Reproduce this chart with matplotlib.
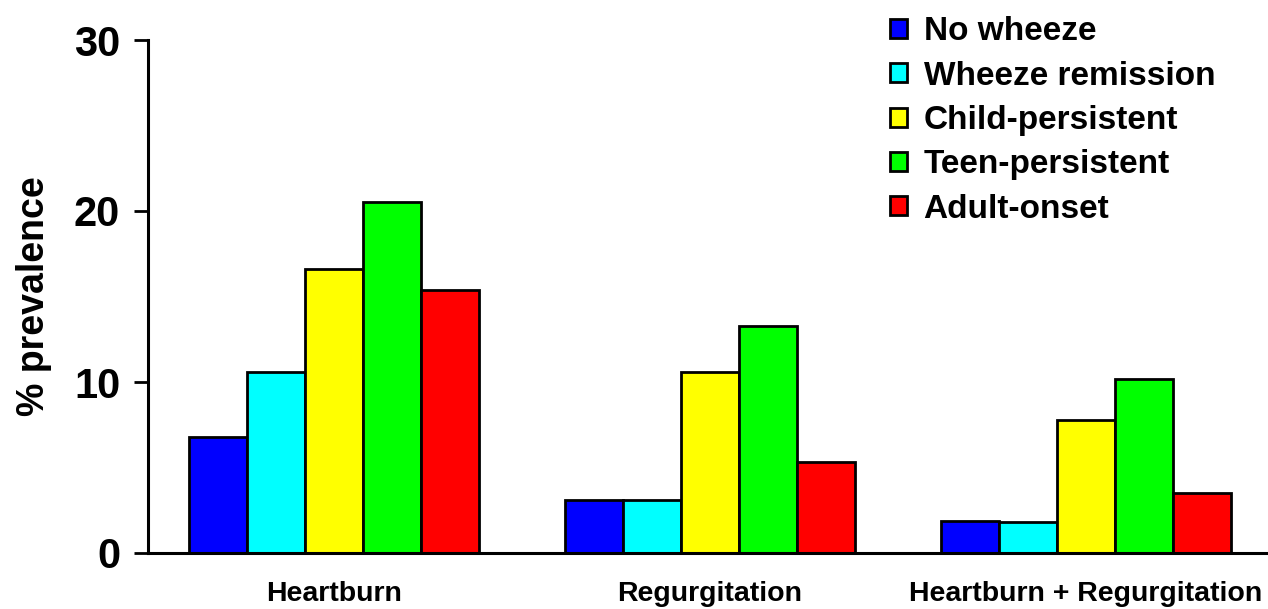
import numpy as np
from matplotlib import pyplot as plt

groups = ['Heartburn', 'Regurgitation', 'Heartburn + Regurgitation']
series = ['No wheeze', 'Wheeze remission', 'Child-persistent', 'Teen-persistent', 'Adult-onset']
colors = ['#0000FF', '#00FFFF', '#FFFF00', '#00FF00', '#FF0000']
values = [
    [6.8, 3.1, 1.9],    # No wheeze
    [10.6, 3.1, 1.8],   # Wheeze remission
    [16.6, 10.6, 7.8],  # Child-persistent
    [20.5, 13.3, 10.2], # Teen-persistent
    [15.4, 5.3, 3.5],   # Adult-onset
]
yticks = [0, 10, 20, 30]

plt.rcParams['font.family'] = 'Liberation Sans'
plt.rcParams['font.weight'] = 'bold'

fig = plt.figure(figsize=(12.68, 6.09), dpi=100)
ax = fig.add_axes([148/1268, 56/609, 1 - 148/1268, 513/609])

x = np.arange(len(groups))
width = 0.154
handles = []
for i, (name, vals) in enumerate(zip(series, values)):
    b = ax.bar(x + (i - 2) * width, vals, width, color=colors[i],
               edgecolor='black', linewidth=2, label=name)
    handles.append(b)

ax.set_xlim(-0.495, 2.484)
ax.set_ylim(0, 30)
ax.set_yticks(yticks)
ax.set_yticklabels([str(t) for t in yticks], fontsize=30, fontweight='bold')
ax.set_xticks(x)
ax.set_xticklabels(groups, fontsize=20.5, fontweight='bold')
ax.tick_params(axis='x', length=0, pad=20)
ax.tick_params(axis='y', direction='out', length=10, width=2, pad=10)
ax.set_ylabel('% prevalence', fontsize=27, fontweight='bold', labelpad=16)

for s in ['top', 'right']:
    ax.spines[s].set_visible(False)
for s in ['left', 'bottom']:
    ax.spines[s].set_linewidth(2.2)

fig.legend(handles=handles, loc='upper left', bbox_to_anchor=(877/1268, 1 - 3/609),
           frameon=False, handlelength=0.5, handleheight=0.5,
           handletextpad=0.5, labelspacing=0.4, borderaxespad=0,
           prop={'weight': 'bold', 'size': 24})

fig.savefig('out.png', dpi=100)
